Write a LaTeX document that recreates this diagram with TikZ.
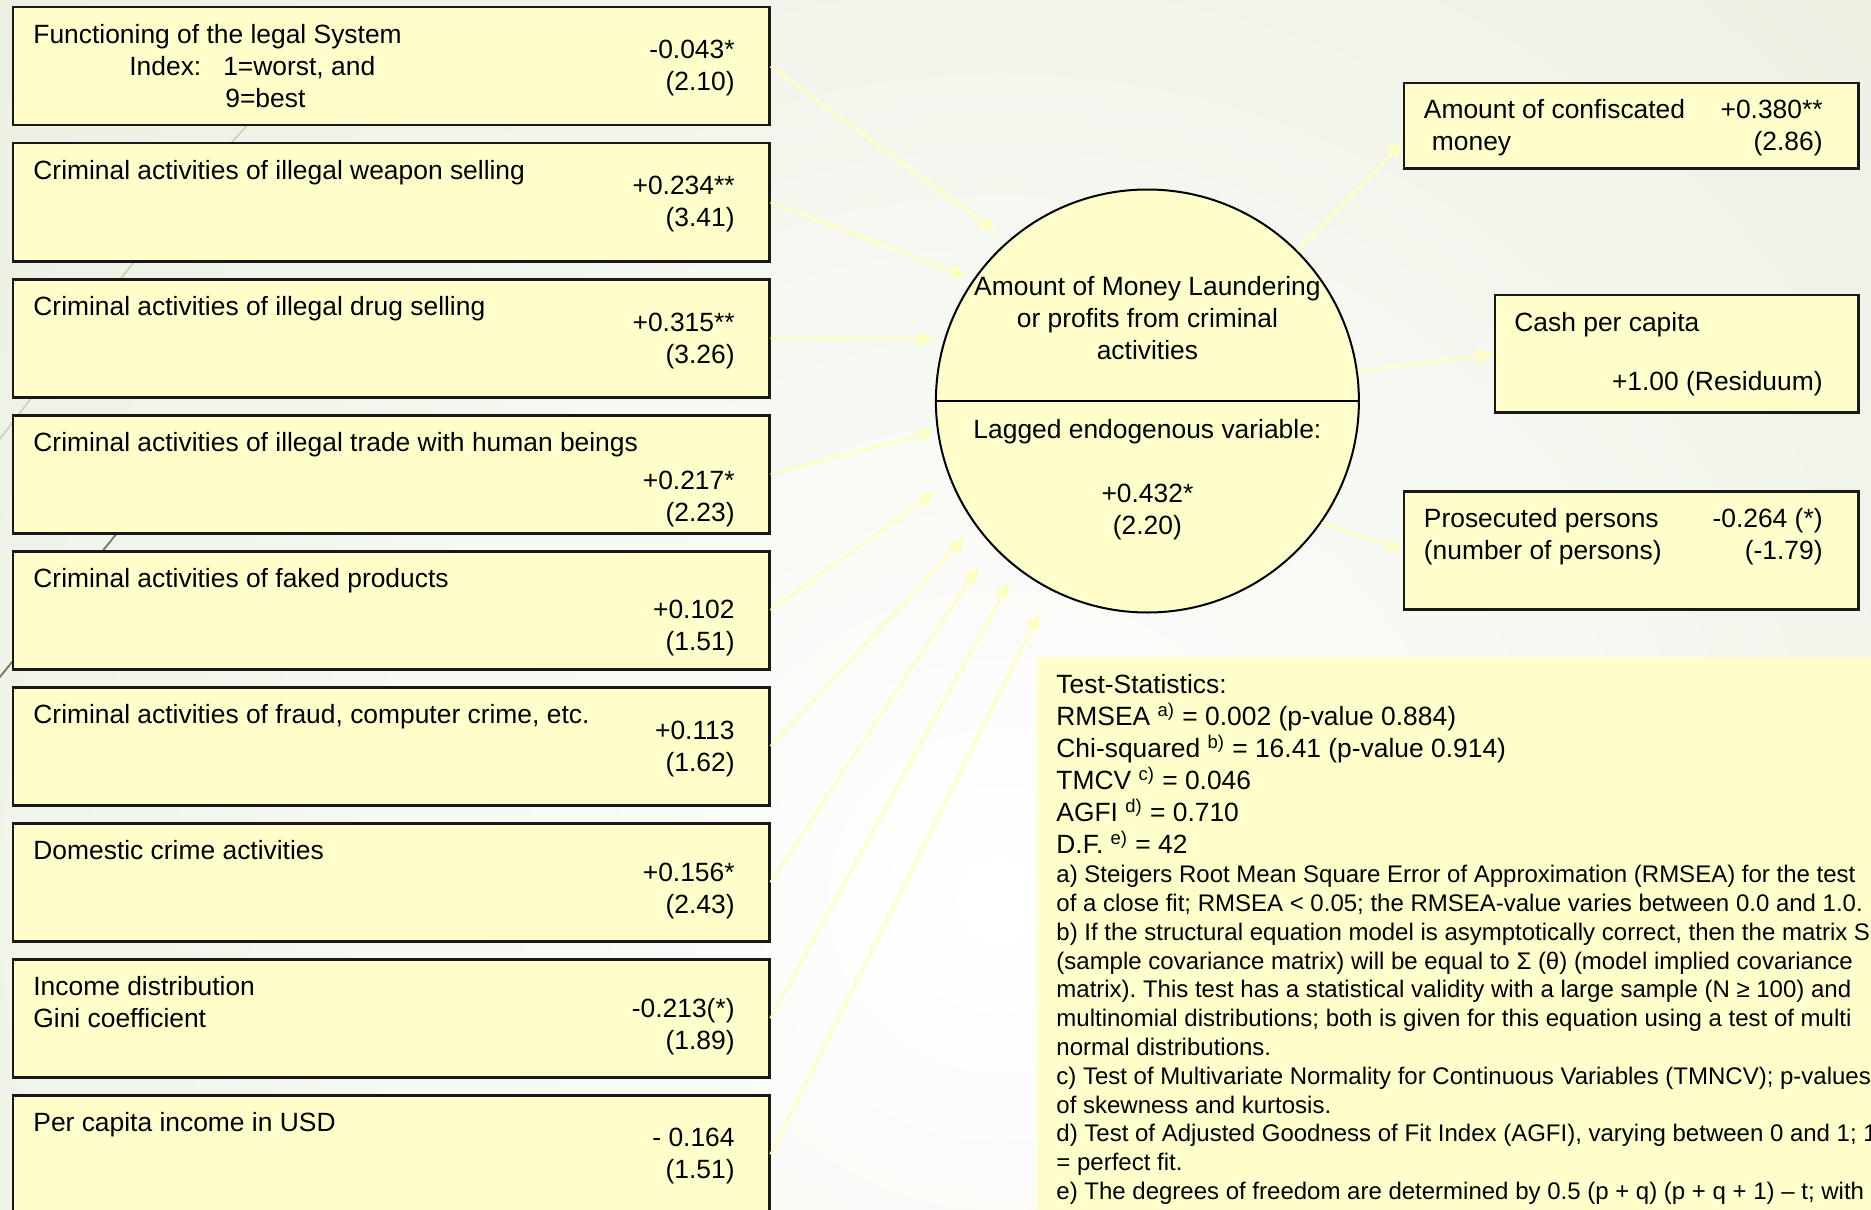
\documentclass[tikz,border=0pt]{standalone}
\usepackage{fontspec}
\setmainfont{Liberation Sans}
\usetikzlibrary{arrows.meta}
\frenchspacing
\definecolor{boxc}{RGB}{255,255,204}
\definecolor{arrc}{RGB}{255,255,194}
\definecolor{bgc}{RGB}{226,232,211}
\definecolor{wispdark}{RGB}{125,115,100}
\definecolor{wisplight}{RGB}{205,210,195}
\begin{document}
\begin{tikzpicture}[x=0.5pt, y=-0.5pt,
  every node/.style={font=\fontsize{13.2}{16}\selectfont, inner sep=0pt},
  lbox/.style={draw=black!90, fill=boxc, line width=1.2pt, minimum width=378.3pt, minimum height=59pt},
  rbox/.style={draw=black!90, fill=boxc, line width=1.2pt},
  ttl/.style={anchor=base west, align=left},
  val/.style={anchor=base east, align=right},
  arr/.style={arrc, line width=1.3pt, -{Triangle[length=8pt,width=7pt]}}]
\useasboundingbox (0,0) rectangle (1871,1209);
% background
\begin{scope}
\clip (0,0) rectangle (1871,1209);
\fill[bgc] (0,0) rectangle (1871,1209);
\shade[inner color=white, outer color=bgc] (-1000,-1100) rectangle (3000,2900);
\draw[wisplight, line width=0.9pt] (-5,445) .. controls (70,350) and (150,230) .. (270,100);
\draw[wispdark, line width=0.9pt] (-5,683) -- (140,505);
\end{scope}
% causes (base = last line)
\node[lbox] (b1) at (391.1,66.3) {};
\node[lbox] (b2) at (391.1,202.3) {};
\node[lbox] (b3) at (391.1,338.3) {};
\node[lbox] (b4) at (391.1,474.3) {};
\node[lbox] (b5) at (391.1,610.3) {};
\node[lbox] (b6) at (391.1,746.3) {};
\node[lbox] (b7) at (391.1,882.3) {};
\node[lbox] (b8) at (391.1,1018.3) {};
\node[lbox] (b9) at (391.1,1154.3) {};
\node[ttl] (t1) at (33,107.3) {Functioning of the legal System\\\hspace*{48pt}Index:\hspace{11pt}1=worst, and\\\hspace*{96pt}9=best};
\node[ttl] (t2) at (33,179.3) {Criminal activities of illegal weapon selling};
\node[ttl] (t3) at (33,315.3) {Criminal activities of illegal drug selling};
\node[ttl] (t4) at (33,451.3) {Criminal activities of illegal trade with human beings};
\node[ttl] (t5) at (33,587.3) {Criminal activities of faked products};
\node[ttl] (t6) at (33,723.3) {Criminal activities of fraud, computer crime, etc.};
\node[ttl] (t7) at (33,859.3) {Domestic crime activities};
\node[ttl] (t8) at (33,1027.3) {Income distribution\\Gini coefficient};
\node[ttl] (t9) at (33,1131.3) {Per capita income in USD};
\node[val] (v1) at (735,91) {-0.043*\\(2.10)};
\node[val] (v2) at (735,227) {+0.234**\\(3.41)};
\node[val] (v3) at (735,363.5) {+0.315**\\(3.26)};
\node[val] (v4) at (735,521) {+0.217*\\(2.23)};
\node[val] (v5) at (735,650) {+0.102\\(1.51)};
\node[val] (v6) at (735,771.5) {+0.113\\(1.62)};
\node[val] (v7) at (735,913.5) {+0.156*\\(2.43)};
\node[val] (v8) at (735,1049.5) {-0.213(*)\\(1.89)};
\node[val] (v9) at (735,1178) {- 0.164\\(1.51)};
% latent variable
\node[circle, draw, fill=boxc, line width=1pt, minimum size=211.5pt] (ml) at (1147.4,401) {};
\draw[line width=1pt] (ml.west) -- (ml.east);
\node[anchor=base, align=center] (mltxt) at (1147.4,359) {Amount of Money Laundering\\or profits from criminal\\activities};
\node[anchor=base] (lag) at (1147.4,438) {Lagged endogenous variable:};
\node[anchor=base, align=center] (lagv) at (1147.4,534) {+0.432*\\(2.20)};
% indicators
\node[rbox, minimum width=227.15pt, minimum height=42.9pt] (rb1) at (1631.35,125.8) {};
\node[rbox, minimum width=181.75pt, minimum height=58.85pt] (rb2) at (1676.75,353.65) {};
\node[rbox, minimum width=227.25pt, minimum height=59.1pt] (rb3) at (1631.25,550.4) {};
\node[ttl] (rt1) at (1423.5,151) {Amount of confiscated\\\hspace*{4pt}money};
\node[val] (rv1) at (1823,151) {+0.380**\\(2.86)};
\node[ttl] (rt2) at (1514,331) {Cash per capita};
\node[val] (rv2) at (1823,390) {+1.00 (Residuum)};
\node[ttl] (rt3) at (1423.5,559) {Prosecuted persons\\(number of persons)};
\node[val] (rv3) at (1823,559) {-0.264 (*)\\(-1.79)};
% test statistics
\fill[boxc] (1037,657) rectangle (1880,1220);
\node[ttl] (stathead) at (1056,853.5) {Test-Statistics:\\
RMSEA \textsuperscript{a)} = 0.002 (p-value 0.884)\\
Chi-squared \textsuperscript{b)} = 16.41 (p-value 0.914)\\
TMCV \textsuperscript{c)} = 0.046\\
AGFI \textsuperscript{d)} = 0.710\\
D.F. \textsuperscript{e)} = 42};
\node[ttl, font=\fontsize{12}{14.4}\selectfont] (statnote) at (1056,1199.5) {a) Steigers Root Mean Square Error of Approximation (RMSEA) for the test\\
of a close fit; RMSEA < 0.05; the RMSEA-value varies between 0.0 and 1.0.\\
b) If the structural equation model is asymptotically correct, then the matrix S\\
(sample covariance matrix) will be equal to Σ (θ) (model implied covariance\\
matrix). This test has a statistical validity with a large sample (N ≥ 100) and\\
multinomial distributions; both is given for this equation using a test of multi\\
normal distributions.\\
c) Test of Multivariate Normality for Continuous Variables (TMNCV); p-values\\
of skewness and kurtosis.\\
d) Test of Adjusted Goodness of Fit Index (AGFI), varying between 0 and 1; 1\\
= perfect fit.\\
e) The degrees of freedom are determined by 0.5 (p + q) (p + q + 1) – t; with};
% paths
\draw[arr, shorten >=7.4pt] (b1.east) -- (ml.131.2);
\draw[arr, shorten >=3.4pt] (b2.east) -- (ml.145.9);
\draw[arr, shorten >=4.6pt] (b3.east) -- (ml.163.3);
\draw[arr, shorten >=1.1pt] (b4.east) -- (ml.188);
\draw[arr, shorten >=9.5pt] (b5.east) -- (ml.202);
\draw[arr, shorten >=7.8pt] (b6.east) -- (ml.216.2);
\draw[arr, shorten >=12.3pt] (b7.east) -- (ml.223.8);
\draw[arr, shorten >=7.7pt] (b8.east) -- (ml.232.7);
\draw[arr, shorten >=12.8pt] (b9.east) -- (ml.243.6);
\draw[arr] (ml.45) -- (rb1.184.5);
\draw[arr] (ml.8.3) -- (rb2.west);
\draw[arr] (ml.-35.2) -- (rb3.west);
\end{tikzpicture}
\end{document}
